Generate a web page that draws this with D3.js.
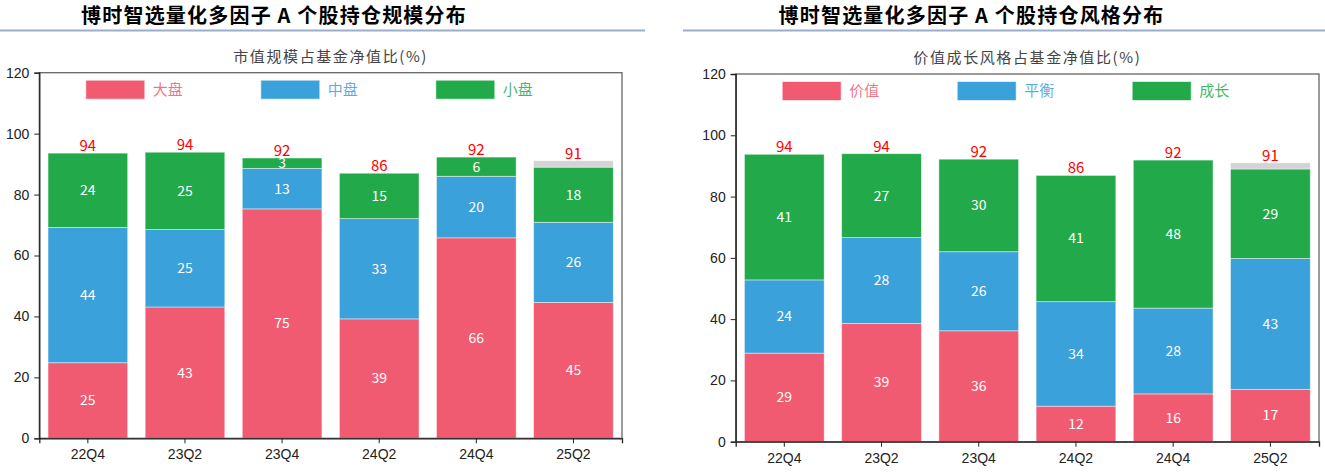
<!DOCTYPE html>
<html><head><meta charset="utf-8">
<script src="https://cdn.jsdelivr.net/npm/d3@7/dist/d3.min.js"></script>
<style>
html,body{margin:0;padding:0;background:#fff;}
svg{display:block;}
</style></head>
<body>
<svg id="c" width="1325" height="474"></svg>
<script>
// ---- data ----
const quarters = ["22Q4","23Q2","23Q4","24Q2","24Q4","25Q2"];
const yTicks = [0,20,40,60,80,100,120];

const sizeTitle = "博时智选量化多因子 A 个股持仓规模分布";
const sizeSubtitle = "市值规模占基金净值比(%)";
const sizeNames = ["大盘","中盘","小盘"];
const sizeLarge = [24.8, 43.1, 75.3, 39.2, 65.8, 44.6];
const sizeMid   = [44.4, 25.4, 13.3, 32.9, 20.2, 26.3];
const sizeSmall = [24.4, 25.4, 3.4, 14.9, 6.3, 18.1];
const sizeOther = [0, 0, 0, 0, 0, 2.1];
const sizeTotal = [94, 94, 92, 86, 92, 91];

const styleTitle = "博时智选量化多因子 A 个股持仓风格分布";
const styleSubtitle = "价值成长风格占基金净值比(%)";
const styleNames = ["价值","平衡","成长"];
const styleValue    = [28.9, 38.6, 36.2, 11.6, 15.6, 17.1];
const styleBalanced = [23.9, 28.0, 25.8, 34.1, 28.0, 42.7];
const styleGrowth   = [41.0, 27.4, 30.2, 41.2, 48.3, 29.2];
const styleOther    = [0, 0, 0, 0, 0, 2.0];
const styleTotal    = [94, 94, 92, 86, 92, 91];

// ---- style ----
const colors = ["#F05B72", "#3AA1DA", "#22AA4A", "#D3D3D3"];
const cjk = "'Noto Sans CJK SC','Noto Sans',sans-serif";
const latin = "'Liberation Sans',Arial,sans-serif";

const svg = d3.select("#c");

function drawChart(cfg){
  const g = svg.append("g");
  // header title
  g.append("text").attr("x", cfg.titleX).attr("y", 22.5)
    .attr("text-anchor","middle").attr("font-family", cjk).attr("font-weight", 700)
    .attr("font-size", 20).attr("letter-spacing", 1.2).attr("fill", "#000").text(cfg.title);
  g.append("line").attr("x1", cfg.ruleX1).attr("x2", cfg.ruleX2).attr("y1", 30.5).attr("y2", 30.5)
    .attr("stroke", "#9AAECB").attr("stroke-width", 2.2);

  const x = d3.scaleBand().domain(quarters).range([cfg.x0, cfg.x1])
    .paddingInner(0.18).paddingOuter(0.09);
  const y = d3.scaleLinear().domain([0,120]).range([cfg.yBottom, cfg.yTop]);

  // subtitle
  g.append("text").attr("x", (cfg.x0+cfg.x1)/2).attr("y", cfg.yTop-11)
    .attr("text-anchor","middle").attr("font-family", cjk).attr("font-size", 15)
    .attr("letter-spacing", 1.6).attr("fill","#444").text(cfg.subtitle);

  // stacked data
  const rows = quarters.map((q,i)=>({q, s0: cfg.series[0][i], s1: cfg.series[1][i], s2: cfg.series[2][i], s3: cfg.series[3][i]}));
  const stack = d3.stack().keys(["s0","s1","s2","s3"])(rows);

  const layers = g.append("g").selectAll("g").data(stack).join("g")
    .attr("fill", (d,i)=>colors[i]);
  layers.selectAll("rect").data(d=>d).join("rect")
    .attr("x", d=>x(d.data.q)).attr("width", x.bandwidth())
    .attr("y", d=>y(d[1])).attr("height", d=>Math.max(0, y(d[0])-y(d[1])))
    .attr("stroke", "#ffffff").attr("stroke-opacity", 0.55).attr("stroke-width", 0.8);

  // inner labels
  stack.slice(0,3).forEach((layer)=>{
    g.append("g").selectAll("text").data(layer.filter(d=>d[1]-d[0]>0)).join("text")
      .attr("x", d=>x(d.data.q)+x.bandwidth()/2)
      .attr("y", d=>y((d[0]+d[1])/2))
      .attr("dy", "0.35em")
      .attr("text-anchor","middle").attr("font-family", cjk).attr("font-size", 14)
      .attr("fill","#fff").text(d=>Math.round(d[1]-d[0]));
  });

  // totals
  const top = stack[stack.length-1];
  g.append("g").selectAll("text").data(top).join("text")
    .attr("x", d=>x(d.data.q)+x.bandwidth()/2)
    .attr("y", d=>y(d[1])-2)
    .attr("text-anchor","middle").attr("font-family", cjk).attr("font-size", 15)
    .attr("fill","#FF0000").text((d,i)=>cfg.totals[i]);

  // frame
  g.append("rect").attr("x", cfg.x0).attr("y", cfg.yTop).attr("width", cfg.x1-cfg.x0)
    .attr("height", cfg.yBottom-cfg.yTop).attr("fill","none").attr("stroke","#666").attr("stroke-width",1.3);

  // axes
  const yAxis = g.append("g").attr("transform", `translate(${cfg.x0},0)`)
    .call(d3.axisLeft(y).tickValues(yTicks).tickSize(5).tickPadding(5));
  const xAxis = g.append("g").attr("transform", `translate(0,${cfg.yBottom})`)
    .call(d3.axisBottom(x).tickSize(5).tickPadding(6));
  [yAxis, xAxis].forEach(a=>{
    a.select(".domain").attr("stroke","#222").attr("stroke-width",1.3);
    a.selectAll(".tick line").attr("stroke","#222");
    a.selectAll(".tick text").attr("font-family", latin).attr("font-size", 14).attr("fill","#222");
  });

  // legend
  const leg = g.append("g");
  cfg.names.forEach((n,i)=>{
    const lx = cfg.x0 + 46.5 + i*175;
    const ly = cfg.yTop + 7.5;
    leg.append("rect").attr("x", lx).attr("y", ly).attr("width", 59).attr("height", 19)
      .attr("fill", colors[i]).attr("stroke","#fff").attr("stroke-opacity",0.6);
    leg.append("text").attr("x", lx+67).attr("y", ly+9.5).attr("dy","0.36em")
      .attr("font-family", cjk).attr("font-size", 15).attr("fill", colors[i])
      .attr("fill-opacity", 0.85).text(n);
  });
}

drawChart({
  title: sizeTitle, subtitle: sizeSubtitle, names: sizeNames,
  series: [sizeLarge, sizeMid, sizeSmall, sizeOther], totals: sizeTotal,
  titleX: 274, ruleX1: 0, ruleX2: 645,
  x0: 39.3, x1: 622, yTop: 72.7, yBottom: 438.3
});
drawChart({
  title: styleTitle, subtitle: styleSubtitle, names: styleNames,
  series: [styleValue, styleBalanced, styleGrowth, styleOther], totals: styleTotal,
  titleX: 971.5, ruleX1: 683, ruleX2: 1325,
  x0: 735.7, x1: 1319, yTop: 74, yBottom: 441.7
});
</script>
</body></html>
